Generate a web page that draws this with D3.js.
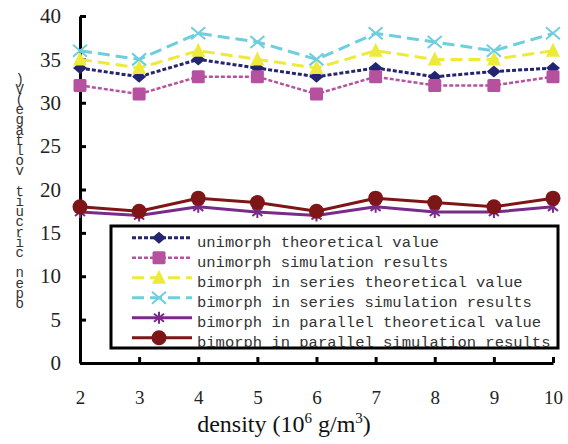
<!DOCTYPE html>
<html>
<head>
<meta charset="utf-8">
<script src="https://cdn.jsdelivr.net/npm/d3@7/dist/d3.min.js"></script>
<style>
  html, body { margin: 0; padding: 0; background: #fff; }
  svg { display: block; }
</style>
</head>
<body>
<svg id="chart" width="568" height="444"></svg>
<script>
// Open circuit voltage against density for the three generator layouts
const densities = [2, 3, 4, 5, 6, 7, 8, 9, 10];
const unimorphTheory = [34, 33, 35, 34, 33, 34, 33, 33.6, 34];
const unimorphSim = [32, 31, 33, 33, 31, 33, 32, 32, 33];
const seriesTheory = [35, 34, 36, 35, 34, 36, 35, 35, 36];
const seriesSim = [36, 35, 38, 37, 35, 38, 37, 36, 38];
const parallelTheory = [17.4, 17, 18, 17.4, 17, 18, 17.4, 17.4, 18];
const parallelSim = [18, 17.5, 19, 18.5, 17.5, 19, 18.5, 18, 19];
const seriesNames = [
  "unimorph theoretical value",
  "unimorph simulation results",
  "bimorph in series theoretical value",
  "bimorph in series simulation results",
  "bimorph in parallel theoretical value",
  "bimorph in parallel simulation results"
];
const yTicks = [0, 5, 10, 15, 20, 25, 30, 35, 40];
const yTitle = "open circuit voltage(V)";

const svg = d3.select("#chart");

const x = d3.scaleLinear().domain([2, 10]).range([80, 553]);
const y = d3.scaleLinear().domain([0, 40]).range([363, 16]);

// marker shapes
const markers = {
  diamond: (g, c) => g.append("path").attr("d", "M-7,0L0,-6L7,0L0,6Z").attr("fill", c),
  square: (g, c) => g.append("rect").attr("x", -6.5).attr("y", -6.5).attr("width", 13).attr("height", 13).attr("rx", 1.5).attr("fill", c),
  triangle: (g, c) => g.append("path").attr("d", "M0,-8L7,6L-7,6Z").attr("fill", c),
  cross: (g, c) => g.append("path").attr("d", "M-7,-6L7,6M-7,6L7,-6").attr("stroke", c).attr("stroke-width", 2).attr("fill", "none"),
  star: (g, c) => g.append("path").attr("d", "M0,-6L0,6M-5,-4L5,4M-5,4L5,-4").attr("stroke", c).attr("stroke-width", 2).attr("fill", "none"),
  circle: (g, c) => g.append("circle").attr("r", 7.5).attr("fill", c)
};

const series = [
  { name: seriesNames[0], values: unimorphTheory, color: "#25256f", dash: "4,2", width: 3, marker: "diamond" },
  { name: seriesNames[1], values: unimorphSim, color: "#b6519f", dash: "4,2", width: 2.5, marker: "square" },
  { name: seriesNames[2], values: seriesTheory, color: "#eeea3c", dash: "12,6", width: 3, marker: "triangle" },
  { name: seriesNames[3], values: seriesSim, color: "#6dcfdd", dash: "12,6", width: 3, marker: "cross" },
  { name: seriesNames[4], values: parallelTheory, color: "#7a2b89", dash: null, width: 3, marker: "star" },
  { name: seriesNames[5], values: parallelSim, color: "#7e1517", dash: null, width: 3, marker: "circle" }
];

// axes
const yAxis = d3.axisLeft(y).tickValues(yTicks).tickSize(-6).tickSizeOuter(0).tickPadding(19);
const gy = svg.append("g").attr("transform", "translate(80,0)").call(yAxis);
const xAxis = d3.axisBottom(x).tickValues(densities).tickSize(-6).tickSizeOuter(0).tickPadding(28);
const gx = svg.append("g").attr("transform", "translate(0,363)").call(xAxis);

[gy, gx].forEach(g => {
  g.select(".domain").attr("stroke", "#000").attr("stroke-width", 3);
  g.selectAll(".tick line").attr("stroke", "#000").attr("stroke-width", 3);
  g.selectAll(".tick text")
    .attr("fill", "#222")
    .attr("font-family", "'Liberation Serif', 'Times New Roman', serif");
});
gy.selectAll(".tick text").attr("font-size", 21);
gx.selectAll(".tick text").attr("font-size", 19);
gx.selectAll(".tick").filter(d => d === 2).select("line").remove();

// x axis title
const xt = svg.append("text")
  .attr("x", 284).attr("y", 432)
  .attr("text-anchor", "middle")
  .attr("font-family", "'Liberation Serif', 'Times New Roman', serif")
  .attr("font-size", 24)
  .attr("fill", "#111");
xt.append("tspan").text("density (10");
xt.append("tspan").attr("font-size", 15).attr("dy", -9).text("6");
xt.append("tspan").attr("dy", 9).text(" g/m");
xt.append("tspan").attr("font-size", 15).attr("dy", -9).text("3");
xt.append("tspan").attr("dy", 9).text(")");

// y axis title: runs bottom to top, each glyph turned back upright
svg.append("text")
  .attr("transform", "translate(15.5,308) rotate(-90)")
  .attr("rotate", 90)
  .attr("font-family", "'Liberation Mono', 'DejaVu Sans Mono', monospace")
  .attr("font-size", 14)
  .attr("letter-spacing", 1.8)
  .attr("fill", "#333")
  .text(yTitle);

// series lines and markers
const line = d3.line().x((d, i) => x(densities[i])).y(d => y(d));
series.forEach(s => {
  svg.append("path")
    .datum(s.values)
    .attr("d", line)
    .attr("fill", "none")
    .attr("stroke", s.color)
    .attr("stroke-width", s.width)
    .attr("stroke-dasharray", s.dash)
    .attr("stroke-linejoin", "round");
  s.values.forEach((v, i) => {
    const g = svg.append("g").attr("transform", `translate(${x(densities[i])},${y(v)})`);
    markers[s.marker](g, s.color);
  });
});

// legend
const legend = svg.append("g");
legend.append("rect")
  .attr("x", 111).attr("y", 226).attr("width", 447).attr("height", 122)
  .attr("fill", "#fff").attr("stroke", "#000").attr("stroke-width", 3);
const clip = svg.append("clipPath").attr("id", "legendClip");
clip.append("rect").attr("x", 112).attr("y", 227).attr("width", 445).attr("height", 120);
const rows = legend.append("g").attr("clip-path", "url(#legendClip)");
series.forEach((s, i) => {
  const base = 246.7 + i * 20;
  const cy = base - 9;
  rows.append("line")
    .attr("x1", 132).attr("x2", 192).attr("y1", cy).attr("y2", cy)
    .attr("stroke", s.color).attr("stroke-width", s.width)
    .attr("stroke-dasharray", s.dash);
  const g = rows.append("g").attr("transform", `translate(159,${cy})`);
  markers[s.marker](g, s.color);
  rows.append("text")
    .attr("x", 197).attr("y", base)
    .attr("font-family", "'Liberation Mono', 'DejaVu Sans Mono', monospace")
    .attr("font-size", 15.5)
    .attr("fill", "#333")
    .text(s.name);
});
</script>
</body>
</html>
